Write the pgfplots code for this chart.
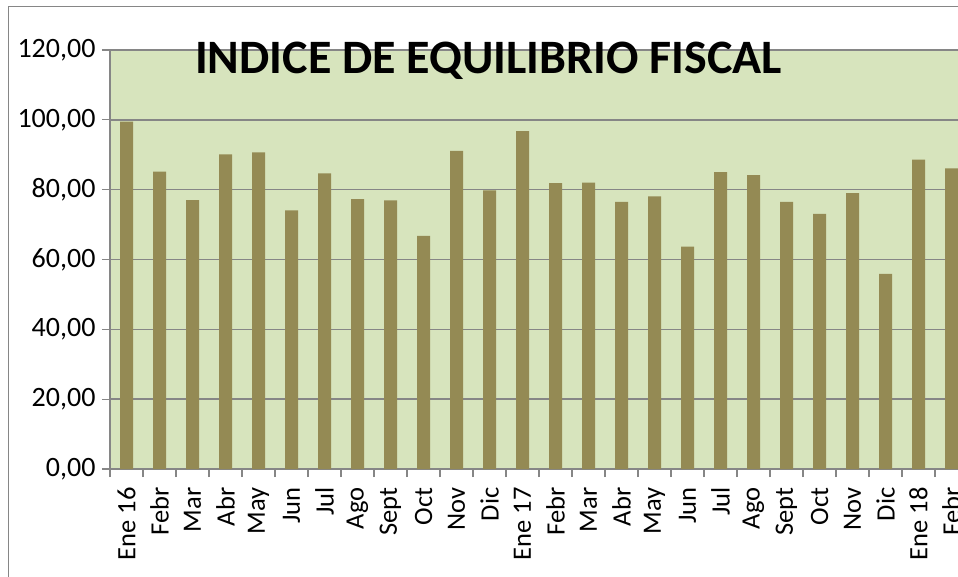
\documentclass[border=0pt]{standalone}
\usepackage{pgfplots}
\pgfplotsset{compat=1.18}
\usepackage{fontspec}
\setmainfont{Carlito}
\definecolor{bgc}{HTML}{D7E4BD}
\definecolor{barc}{HTML}{948A54}
\definecolor{gridc}{HTML}{868686}
\begin{document}
\begin{tikzpicture}
\path[use as bounding box] (0,0) rectangle (958pt,-577pt);
\clip (0,0) rectangle (958pt,-577pt);
\fill[white] (0,0) rectangle (958pt,-577pt);
\draw[gridc, line width=1pt] (8pt,-580pt) -- (8pt,-7pt) -- (975pt,-7pt);
\begin{axis}[
  at={(110pt,-469pt)}, anchor=south west,
  scale only axis, width=858pt, height=419pt,
  xmin=-0.5, xmax=25.5, ymin=0, ymax=120,
  axis x line*=bottom, axis y line*=left,
  axis line style={gridc, line width=1.3pt},
  axis background/.style={fill=bgc},
  ymajorgrids, grid style={gridc, line width=1.5pt},
  ytick={0,20,...,120},
  xtick={0,...,25},
  xticklabels={Ene 16,Febr,Mar,Abr,May,Jun,Jul,Ago,Sept,Oct,Nov,Dic,Ene 17,Febr,Mar,Abr,May,Jun,Jul,Ago,Sept,Oct,Nov,Dic,Ene 18,Febr},
  minor xtick={-0.5,0.5,...,25.5},
  tick align=outside,
  major tick length=8pt, minor tick length=8pt,
  major x tick style={draw=none},
  tick style={gridc, line width=1.3pt},
  xticklabel style={font=\fontsize{26.5}{30}\selectfont, yshift=-7pt, rotate=90, anchor=east},
  yticklabel style={font=\fontsize{28}{32}\selectfont, xshift=-3pt},
  /pgf/number format/assume math mode=true,
  yticklabel style={/pgf/number format/.cd, fixed, fixed zerofill, precision=2, use comma, 1000 sep={}},
]
\addplot[ybar, bar width=13pt, fill=barc, draw=none] coordinates {
(0,99.5) (1,85.2) (2,77.0) (3,90.1) (4,90.7) (5,74.1) (6,84.7) (7,77.3) (8,76.9) (9,66.8) (10,91.1) (11,79.8)
(12,96.8) (13,81.9) (14,82.0) (15,76.5) (16,78.1) (17,63.7) (18,85.0) (19,84.2) (20,76.5) (21,73.1) (22,79.0) (23,55.9)
(24,88.6) (25,86.1)};
\end{axis}
\node[font=\fontsize{48}{52}\selectfont\bfseries, anchor=base] at (488.5pt,-74pt) {INDICE DE EQUILIBRIO FISCAL};
\end{tikzpicture}
\end{document}
